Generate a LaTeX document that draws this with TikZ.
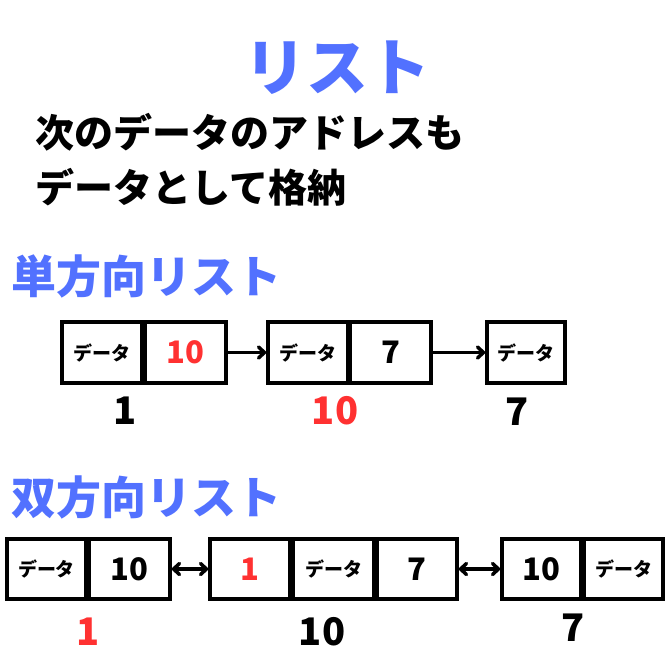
\documentclass[tikz,border=0pt]{standalone}
\usepackage{fontspec}
\setmainfont{Noto Sans CJK JP}
\usetikzlibrary{arrows.meta}
\definecolor{cblue}{HTML}{5271FF}
\definecolor{cred}{HTML}{FF3131}
\tikzset{
  cell/.style={draw=black, line width=3.5pt, minimum height=61pt, inner sep=0pt, fill=white},
  datatext/.style={font=\bfseries\fontsize{19}{19}\selectfont},
  numtext/.style={font=\bfseries\fontsize{31}{31}\selectfont},
  lbl/.style={font=\bfseries\fontsize{38}{38}\selectfont},
  heading/.style={font=\bfseries\fontsize{45}{45}\selectfont, text=cblue, anchor=west, inner sep=0pt},
  desc/.style={font=\bfseries\fontsize{39}{39}\selectfont, anchor=west, inner sep=0pt},
  link/.style={line width=3.5pt, line cap=round},
  tip/.tip={Straight Barb[length=6pt, width=11pt, line cap=round, line join=round]}
}
\begin{document}
\begin{tikzpicture}[x=1pt, y=-1pt]
\useasboundingbox (0,0) rectangle (670,670);
\fill[white] (0,0) rectangle (670,670);
% title
\node[font=\bfseries\fontsize{62}{62}\selectfont, text=cblue, inner sep=0pt] (title) at (337,68) {リスト};
\node[desc] (d1) at (35,132) {次のデータのアドレスも};
\node[desc] (d2) at (35,187) {データとして格納};
% single list
\node[heading] (h1) at (11,276) {単方向リスト};
\node[cell, minimum width=80pt, datatext] (s1a) at (102,352.5) {データ};
\node[cell, minimum width=81pt, numtext, text=cred] (s1b) at (185.5,352.5) {10};
\node[cell, minimum width=80pt, datatext] (s2a) at (308,352.5) {データ};
\node[cell, minimum width=81pt, numtext] (s2b) at (390.5,352.5) {7};
\node[cell, minimum width=78pt, datatext] (s3a) at (526,352.5) {データ};
\draw[link, -tip] (s1b.east) -- (s2a.west);
\draw[link, -tip] (s2b.east) -- (s3a.west);
\node[lbl] (l1) at (125,411) {1};
\node[lbl, text=cred] (l2) at (335,411) {10};
\node[lbl] (l3) at (517,412) {7};
% double list
\node[heading] (h2) at (11,497) {双方向リスト};
\node[cell, minimum height=60pt, minimum width=79pt, datatext] (d1a) at (46.5,569) {データ};
\node[cell, minimum height=60pt, minimum width=81pt, numtext] (d1b) at (129.5,569) {10};
\node[cell, minimum height=60pt, minimum width=80pt, numtext, text=cred] (d2a) at (250,569) {1};
\node[cell, minimum height=60pt, minimum width=81pt, datatext] (d2b) at (333.5,569) {データ};
\node[cell, minimum height=60pt, minimum width=80pt, numtext] (d2c) at (417,569) {7};
\node[cell, minimum height=60pt, minimum width=79pt, numtext] (d3a) at (541.5,569) {10};
\node[cell, minimum height=60pt, minimum width=79pt, datatext] (d3b) at (623.5,569) {データ};
\draw[link, tip-tip] (d1b.east) -- (d2a.west);
\draw[link, tip-tip] (d2c.east) -- (d3a.west);
\node[lbl, text=cred] (m1) at (88,632) {1};
\node[lbl] (m2) at (322,632) {10};
\node[lbl] (m3) at (573,628) {7};
\end{tikzpicture}
\end{document}
